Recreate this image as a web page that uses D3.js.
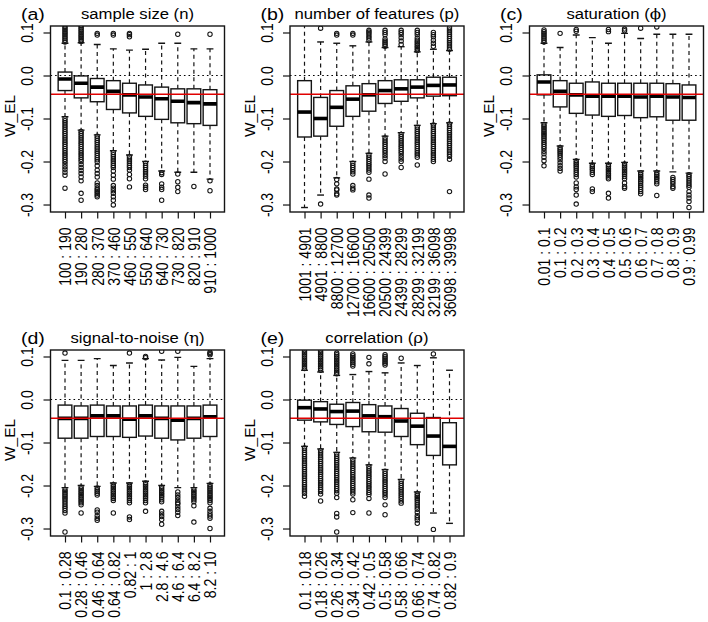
<!DOCTYPE html>
<html><head><meta charset="utf-8">
<script src="https://cdn.jsdelivr.net/npm/d3@7/dist/d3.min.js"></script>
<style>body{margin:0;background:#fff}svg{display:block}</style>
</head><body>
<script>
// ---------- DATA ----------
const panelIds = ["(a)", "(b)", "(c)", "(d)", "(e)"];
const titleBase = ["sample size", "number of features", "saturation", "signal-to-noise", "correlation"];
const titleSym = ["n", "p", "\u03D5", "\u03B7", "\u03C1"];
const symSerif = [false, false, true, true, true];
const yLabel = "W_EL";
const yTickValues = [-0.3, -0.2, -0.1, 0.0, 0.1];
const yTickLabels = ["-0.3", "-0.2", "-0.1", "0.0", "0.1"];
const refLine = 0.0;
const redLine = -0.0435;

const catsA = ["100 : 190","190 : 280","280 : 370","370 : 460","460 : 550","550 : 640","640 : 730","730 : 820","820 : 910","910 : 1000"];
const catsB = ["1001 : 4901","4901 : 8800","8800 : 12700","12700 : 16600","16600 : 20500","20500 : 24399","24399 : 28299","28299 : 32199","32199 : 36098","36098 : 39998"];
const catsC = ["0.01 : 0.1","0.1 : 0.2","0.2 : 0.3","0.3 : 0.4","0.4 : 0.5","0.5 : 0.6","0.6 : 0.7","0.7 : 0.8","0.8 : 0.9","0.9 : 0.99"];
const catsD = ["0.1 : 0.28","0.28 : 0.46","0.46 : 0.64","0.64 : 0.82","0.82 : 1","1 : 2.8","2.8 : 4.6","4.6 : 6.4","6.4 : 8.2","8.2 : 10"];
const catsE = ["0.1 : 0.18","0.18 : 0.26","0.26 : 0.34","0.34 : 0.42","0.42 : 0.5","0.5 : 0.58","0.58 : 0.66","0.66 : 0.74","0.74 : 0.82","0.82 : 0.9"];

// box stats: [lower whisker, Q1, median, Q3, upper whisker]
const statsA = [[-0.096,-0.035,-0.008,0.008,0.075],[-0.127,-0.052,-0.018,-0.001,0.076],[-0.138,-0.061,-0.027,-0.007,0.072],[-0.175,-0.079,-0.037,-0.012,0.062],[-0.185,-0.087,-0.045,-0.018,0.059],[-0.200,-0.095,-0.050,-0.022,0.061],[-0.222,-0.102,-0.054,-0.027,0.075],[-0.225,-0.110,-0.060,-0.031,0.075],[-0.225,-0.112,-0.063,-0.031,0.062],[-0.241,-0.116,-0.066,-0.033,0.062]];
const statsB = [[-0.307,-0.143,-0.085,-0.012,0.140],[-0.278,-0.141,-0.100,-0.051,0.078],[-0.238,-0.118,-0.074,-0.035,0.075],[-0.200,-0.095,-0.055,-0.024,0.069],[-0.181,-0.083,-0.045,-0.019,0.078],[-0.141,-0.065,-0.035,-0.012,0.065],[-0.133,-0.060,-0.031,-0.010,0.067],[-0.116,-0.052,-0.027,-0.010,0.055],[-0.112,-0.048,-0.023,-0.004,0.061],[-0.110,-0.047,-0.022,-0.004,0.058]];
const statsC = [[-0.110,-0.045,-0.015,0.0015,0.075],[-0.164,-0.073,-0.037,-0.012,0.065],[-0.195,-0.088,-0.045,-0.018,0.094],[-0.204,-0.092,-0.048,-0.015,0.088],[-0.204,-0.095,-0.048,-0.018,0.075],[-0.202,-0.093,-0.048,-0.018,0.098],[-0.222,-0.098,-0.050,-0.018,0.086],[-0.222,-0.096,-0.048,-0.018,0.096],[-0.224,-0.104,-0.050,-0.019,0.096],[-0.227,-0.104,-0.051,-0.022,0.096]];
const statsD = [[-0.205,-0.090,-0.044,-0.013,0.091],[-0.200,-0.090,-0.044,-0.015,0.091],[-0.202,-0.086,-0.038,-0.013,0.095],[-0.194,-0.086,-0.038,-0.015,0.079],[-0.194,-0.088,-0.046,-0.015,0.085],[-0.190,-0.085,-0.038,-0.013,0.095],[-0.200,-0.090,-0.044,-0.015,0.092],[-0.205,-0.094,-0.048,-0.015,0.098],[-0.205,-0.090,-0.044,-0.015,0.077],[-0.195,-0.086,-0.040,-0.013,0.095]];
const statsE = [[-0.109,-0.048,-0.019,-0.0015,0.068],[-0.115,-0.052,-0.022,-0.005,0.064],[-0.123,-0.058,-0.028,-0.011,0.056],[-0.136,-0.063,-0.027,-0.007,0.058],[-0.152,-0.075,-0.038,-0.012,0.065],[-0.163,-0.076,-0.040,-0.015,0.062],[-0.186,-0.086,-0.050,-0.021,0.085],[-0.215,-0.105,-0.062,-0.032,0.079],[-0.264,-0.130,-0.085,-0.042,0.097],[-0.288,-0.152,-0.109,-0.054,0.068]];

// outliers (upper / lower) per box
const outHiA = [[.078,.082,.086,.09,.094,.098,.102,.106,.11,.114],[.079,.083,.087,.091,.095,.099,.103,.107,.111,.115],[.094,.098],[.094,.098],[.09,.095,.098],[],[],[.096],[],[.096]];
const outLoA = [[-.1,-.105,-.11,-.115,-.12,-.125,-.13,-.135,-.14,-.145,-.15,-.155,-.16,-.165,-.17,-.175,-.18,-.185,-.19,-.195,-.2,-.206,-.212,-.218,-.225,-.232,-.262],
 [-.13,-.135,-.14,-.145,-.15,-.155,-.16,-.165,-.17,-.175,-.18,-.185,-.19,-.195,-.2,-.207,-.214,-.221,-.228,-.236,-.245,-.274,-.29],
 [-.141,-.146,-.151,-.156,-.161,-.166,-.171,-.176,-.181,-.186,-.191,-.196,-.201,-.21,-.22,-.228,-.236,-.25,-.256,-.262,-.266,-.27,-.274,-.278,-.282],
 [-.179,-.184,-.189,-.194,-.199,-.204,-.209,-.214,-.222,-.232,-.241,-.256,-.262,-.268,-.274,-.282,-.29,-.301],
 [-.189,-.194,-.199,-.204,-.209,-.214,-.22,-.23,-.24,-.259],
 [-.204,-.209,-.214,-.219,-.224,-.229,-.234,-.24,-.255,-.26,-.265],
 [-.226,-.23,-.252,-.26,-.265,-.29],
 [-.229,-.247,-.26,-.27],
 [-.258],
 [-.245,-.268]];
const outHiB = [[],[.11],[.094,.098],[.094,.098],[.082,.087,.092,.097,.101,.105],[.068,.072,.076,.08,.085,.095,.1,.105],[.072,.08,.088,.095,.1,.105],[.058,.062,.066,.07,.074,.078,.082,.087,.095,.1,.105],[.068,.075,.082,.09,.095,.1],[.061,.066,.071,.076,.081,.086,.091,.096,.101,.106,.111]];
const outLoB = [[],[-.299],[-.242,-.252,-.264,-.266,-.275,-.278],
 [-.204,-.209,-.214,-.219,-.224,-.229,-.256,-.262,-.266],
 [-.185,-.19,-.195,-.2,-.205,-.21,-.215,-.22,-.225,-.241,-.278,-.285],
 [-.145,-.15,-.155,-.16,-.165,-.17,-.175,-.18,-.186,-.192,-.2,-.229],
 [-.137,-.142,-.147,-.152,-.157,-.162,-.167,-.172,-.177,-.182,-.188,-.194,-.2,-.214],
 [-.12,-.125,-.13,-.135,-.14,-.145,-.15,-.155,-.16,-.165,-.17,-.175,-.18,-.185,-.19,-.208],
 [-.115,-.12,-.125,-.13,-.135,-.14,-.145,-.15,-.155,-.16,-.165,-.17,-.175,-.18,-.185,-.19,-.195,-.2],
 [-.113,-.118,-.123,-.128,-.133,-.138,-.143,-.148,-.153,-.158,-.163,-.168,-.173,-.178,-.183,-.188,-.195,-.27]];
const outHiC = [[.078,.082,.086,.09,.094,.098,.102,.106],[.098],[.103,.107],[],[.102,.107],[.104,.108],[.11],[.113],[],[]];
const outLoC = [[-.114,-.118,-.122,-.126,-.13,-.134,-.138,-.142,-.146,-.15,-.155,-.16,-.165,-.17,-.176,-.182,-.19,-.198,-.21],
 [-.168,-.172,-.176,-.18,-.185,-.19,-.196,-.203,-.21,-.216,-.222],
 [-.199,-.203,-.207,-.211,-.215,-.22,-.225,-.23,-.236,-.25,-.259,-.265,-.278,-.299],
 [-.208,-.212,-.216,-.22,-.225,-.23,-.264,-.27],
 [-.208,-.212,-.216,-.22,-.224,-.228,-.232,-.236,-.24,-.274,-.285],
 [-.206,-.21,-.214,-.218,-.222,-.226,-.23,-.235,-.24,-.25,-.258,-.262],
 [-.226,-.23,-.234,-.238,-.242,-.246,-.25,-.255,-.26,-.265,-.27,-.275],
 [-.226,-.23,-.234,-.238,-.242,-.247,-.252,-.279],
 [-.237,-.242,-.247,-.252,-.258,-.262],
 [-.231,-.235,-.24,-.245,-.25,-.255,-.26,-.27,-.278,-.285,-.293,-.307]];
const outHiD = [[.108],[],[],[],[.108],[.097,.1],[.112],[.112],[],[.104,.107,.11]];
const outLoD = [[-.209,-.213,-.217,-.221,-.225,-.229,-.233,-.238,-.243,-.248,-.253,-.258,-.264,-.308],
 [-.204,-.208,-.212,-.216,-.22,-.224,-.228,-.232,-.236,-.24,-.245,-.264],
 [-.206,-.21,-.214,-.218,-.222,-.257,-.262,-.27,-.276,-.281],
 [-.198,-.202,-.206,-.21,-.214,-.218,-.222,-.226,-.23,-.235,-.264],
 [-.198,-.202,-.206,-.21,-.214,-.218,-.222,-.226,-.23,-.235,-.24,-.273,-.279],
 [-.194,-.198,-.202,-.206,-.21,-.214,-.218,-.222,-.226,-.23,-.235,-.24,-.26],
 [-.204,-.208,-.212,-.216,-.22,-.224,-.228,-.233,-.238,-.26,-.266,-.272,-.279,-.29],
 [-.215,-.222,-.228,-.234,-.24,-.243,-.25,-.256,-.262,-.27],
 [-.209,-.213,-.217,-.221,-.225,-.229,-.233,-.238,-.247,-.285],
 [-.199,-.203,-.207,-.211,-.215,-.219,-.223,-.227,-.231,-.235,-.24,-.253,-.26,-.266,-.271,-.276,-.3]];
const outHiE = [[.072,.076,.08,.084,.088,.092,.096,.1,.104,.108,.112],[.068,.072,.076,.08,.084,.088,.092,.096,.1,.104,.108,.112],[.06,.064,.068,.072,.076,.08,.084,.088,.092,.096,.1,.104,.108],[.078,.082,.086,.09,.094,.098,.102,.106],[.083,.098],[.08,.084,.088,.092,.096,.1,.104],[.096],[],[.106],[]];
const outLoE = [[-.113,-.118,-.123,-.128,-.133,-.138,-.143,-.148,-.153,-.158,-.163,-.168,-.173,-.178,-.183,-.188,-.193,-.198,-.203,-.208,-.213,-.218,-.225],
 [-.119,-.124,-.129,-.134,-.139,-.144,-.149,-.154,-.159,-.164,-.169,-.174,-.179,-.184,-.189,-.194,-.199,-.204,-.209,-.214,-.22,-.236],
 [-.127,-.132,-.137,-.142,-.147,-.152,-.157,-.162,-.167,-.172,-.177,-.182,-.187,-.192,-.197,-.202,-.207,-.212,-.218,-.228,-.265,-.273,-.308],
 [-.14,-.145,-.15,-.155,-.16,-.165,-.17,-.175,-.18,-.185,-.19,-.195,-.2,-.205,-.21,-.215,-.22,-.233,-.263],
 [-.156,-.161,-.166,-.171,-.176,-.181,-.186,-.191,-.196,-.201,-.206,-.211,-.216,-.221,-.23,-.264],
 [-.167,-.172,-.177,-.182,-.187,-.192,-.197,-.202,-.207,-.212,-.217,-.222,-.228,-.245,-.268],
 [-.19,-.195,-.2,-.205,-.21,-.215,-.22,-.225,-.23,-.236,-.241],
 [-.219,-.223,-.227,-.231,-.235,-.24,-.245,-.25,-.255,-.262,-.27,-.275,-.28,-.288],
 [-.302],
 []];

const panelCats = [catsA, catsB, catsC, catsD, catsE];
const panelStats = [statsA, statsB, statsC, statsD, statsE];
const panelOutHi = [outHiA, outHiB, outHiC, outHiD, outHiE];
const panelOutLo = [outLoA, outLoB, outLoC, outLoD, outLoE];

// ---------- DRAW ----------
const W = 708, H = 622;
const FONT = "'Liberation Sans', Arial, Helvetica, sans-serif";
const SX = 1.15; // horizontal text stretch of the reference
const ink = "#141414";
const svg = d3.select("body").append("svg").attr("width", W).attr("height", H)
  .style("font-family", FONT);

const colLeft = [50.5, 290, 529.5], rowTop = [26, 350];
const plotW = 174, plotH = 186;

panelStats.forEach((stats, i) => {
  const col = i % 3, row = Math.floor(i / 3);
  const L = colLeft[col], T = rowTop[row];
  const x = d3.scaleLinear().domain([0.1, 10.9]).range([L, L + plotW]);
  const y = d3.scaleLinear().domain([-0.3174, 0.1151]).range([T + plotH, T]);
  const g = svg.append("g");
  const cid = "clip" + i;
  g.append("clipPath").attr("id", cid).append("rect")
    .attr("x", L).attr("y", T).attr("width", plotW).attr("height", plotH);
  const pg = g.append("g").attr("clip-path", `url(#${cid})`);
  const cats = panelCats[i];
  const hw = x(1.425) - x(1); // half box width
  const sw = hw / 2;          // half staple width

  stats.forEach((s, j) => {
    const cx = x(j + 1);
    const [lo, q1, md, q3, hi] = s;
    const bg = pg.append("g");
    bg.append("line").attr("x1", cx).attr("x2", cx).attr("y1", y(q3)).attr("y2", y(hi))
      .attr("stroke", ink).attr("stroke-width", 1.2).attr("stroke-dasharray", "4,3.5");
    bg.append("line").attr("x1", cx).attr("x2", cx).attr("y1", y(q1)).attr("y2", y(lo))
      .attr("stroke", ink).attr("stroke-width", 1.2).attr("stroke-dasharray", "4,3.5");
    [lo, hi].forEach(v => bg.append("line").attr("x1", cx - sw).attr("x2", cx + sw)
      .attr("y1", y(v)).attr("y2", y(v)).attr("stroke", ink).attr("stroke-width", 1.4));
    bg.append("rect").attr("x", cx - hw).attr("width", 2 * hw)
      .attr("y", y(q3)).attr("height", y(q1) - y(q3))
      .attr("fill", "#fff").attr("stroke", ink).attr("stroke-width", 1.4);
    bg.append("line").attr("x1", cx - hw).attr("x2", cx + hw).attr("y1", y(md)).attr("y2", y(md))
      .attr("stroke", "#000").attr("stroke-width", 3.6);
    const outs = panelOutHi[i][j].concat(panelOutLo[i][j]);
    bg.selectAll("circle.o").data(outs).enter().append("circle")
      .attr("cx", cx).attr("cy", d => y(d)).attr("r", 2.2)
      .attr("fill", "none").attr("stroke", ink).attr("stroke-width", 1.05);
  });

  pg.append("line").attr("x1", L).attr("x2", L + plotW).attr("y1", y(refLine)).attr("y2", y(refLine))
    .attr("stroke", "#000").attr("stroke-width", 1.1).attr("stroke-dasharray", "1.6,3");
  pg.append("line").attr("x1", L).attr("x2", L + plotW).attr("y1", y(redLine)).attr("y2", y(redLine))
    .attr("stroke", "#e00000").attr("stroke-width", 1.6);

  g.append("rect").attr("x", L).attr("y", T).attr("width", plotW).attr("height", plotH)
    .attr("fill", "none").attr("stroke", ink).attr("stroke-width", 1.4);

  const ya = g.append("g").attr("transform", `translate(${L},0)`)
    .call(d3.axisLeft(y).tickValues(yTickValues).tickSize(7).tickSizeOuter(0)
      .tickFormat((d, k) => yTickLabels[k]));
  ya.select(".domain").remove();
  ya.selectAll("line").attr("stroke", ink).attr("stroke-width", 1.2);
  ya.selectAll("text").attr("x", null).attr("dy", null).attr("fill", "#000")
    .attr("font-family", FONT).attr("font-size", 14).attr("text-anchor", "middle")
    .attr("transform", `translate(-17.2,0) scale(${SX},1) rotate(-90)`);

  const xa = g.append("g").attr("transform", `translate(0,${T + plotH})`)
    .call(d3.axisBottom(x).tickValues(d3.range(1, cats.length + 1)).tickSize(6.5).tickSizeOuter(0)
      .tickFormat(d => cats[d - 1]));
  xa.select(".domain").remove();
  xa.selectAll("line").attr("stroke", ink).attr("stroke-width", 1.2);
  xa.selectAll("text").attr("y", null).attr("dy", null).attr("fill", "#000")
    .attr("font-family", FONT).attr("font-size", 14).attr("text-anchor", "end")
    .attr("transform", `translate(5.8,15.5) scale(${SX},1) rotate(-90)`);

  g.append("text").attr("transform", `translate(${L - 35.5},${T + 90}) rotate(-90)`)
    .attr("text-anchor", "middle").attr("font-size", 15.5).text(yLabel);

  g.append("text").attr("transform", `translate(${L - 29.5},${T - 6.5}) scale(${SX},1)`)
    .attr("font-size", 17).text(panelIds[i]);
  const tt = g.append("text").attr("transform", `translate(${L + plotW / 2},${T - 7.5}) scale(${SX},1)`)
    .attr("text-anchor", "middle").attr("font-size", 14.5);
  tt.append("tspan").text(titleBase[i] + " (");
  tt.append("tspan").text(titleSym[i])
    .attr("font-family", symSerif[i] ? "'DejaVu Serif', 'Liberation Serif', serif" : FONT);
  tt.append("tspan").text(")");
});
</script>
</body></html>
